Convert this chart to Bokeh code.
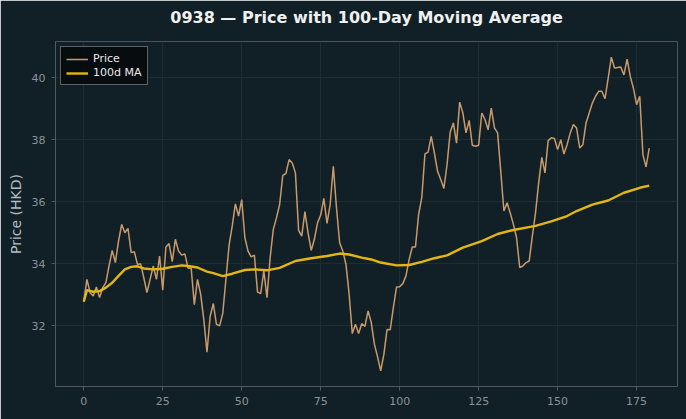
from bokeh.plotting import figure
from bokeh.models import ColumnDataSource, Range1d, FixedTicker, Legend, LegendItem, Title
from bokeh.embed import file_html
from bokeh.resources import INLINE

# ---- data ----
price = [
    32.78, 33.50, 33.07, 32.96, 33.25, 32.91, 33.23, 33.39, 33.93, 34.43,
    34.04, 34.73, 35.27, 35.00, 35.14, 34.36, 34.39, 33.98, 34.00, 33.55,
    33.07, 33.50, 33.93, 33.50, 34.25, 33.15, 34.54, 34.65, 34.07, 34.79,
    34.41, 34.28, 34.32, 33.86, 33.86, 32.68, 33.50, 33.02, 32.20, 31.15,
    32.30, 32.72, 32.05, 32.00, 32.40, 33.50, 34.60, 35.22, 35.93, 35.54,
    36.07, 34.84, 34.41, 34.22, 34.28, 33.09, 33.04, 33.77, 32.91, 34.20,
    35.11, 35.48, 35.91, 36.85, 36.91, 37.36, 37.25, 36.93, 35.08, 34.89,
    35.68, 35.00, 34.43, 34.79, 35.32, 35.57, 36.11, 35.30, 35.91, 37.14,
    35.80, 34.68, 34.41, 33.98, 33.02, 31.75, 32.05, 31.75, 32.07, 31.98,
    32.48, 32.11, 31.41, 31.00, 30.55, 31.08, 31.88, 31.87, 32.59, 33.25,
    33.26, 33.36, 33.61, 34.14, 34.54, 34.54, 35.59, 36.13, 37.54, 37.60,
    38.11, 37.57, 36.98, 36.72, 36.43, 37.20, 38.25, 38.54, 37.89, 39.21,
    38.86, 38.22, 38.62, 37.82, 37.79, 37.82, 38.86, 38.65, 38.32, 39.02,
    38.38, 38.22, 36.98, 35.70, 35.97, 35.64, 35.27, 34.84, 33.88, 33.93,
    34.04, 34.09, 34.89, 35.64, 36.61, 37.43, 36.93, 37.97, 38.06, 38.04,
    37.68, 38.00, 37.54, 37.84, 38.22, 38.49, 38.38, 37.73, 37.84, 38.54,
    38.86, 39.18, 39.40, 39.56, 39.56, 39.32, 39.98, 40.66, 40.31, 40.33,
    40.34, 40.09, 40.60, 40.04, 39.66, 39.13, 39.40, 37.52, 37.12, 37.73,
]
day = list(range(len(price)))

ma_day = [0, 1, 3, 5, 7, 9, 11, 13, 15, 17, 19, 22, 25, 28, 31, 33, 36, 39, 41, 44,
          47, 51, 54, 58, 62, 67, 72, 77, 81, 84, 88, 91, 94, 99, 103, 107, 111, 115,
          120, 126, 131, 136, 143, 148, 153, 156, 161, 166, 171, 176, 179]
ma_val = [32.78, 33.15, 33.10, 33.12, 33.23, 33.39, 33.61, 33.82, 33.90, 33.92,
          33.85, 33.82, 33.84, 33.90, 33.95, 33.93, 33.88, 33.75, 33.70, 33.60,
          33.68, 33.80, 33.82, 33.79, 33.87, 34.09, 34.18, 34.25, 34.33, 34.30,
          34.20, 34.14, 34.04, 33.95, 33.96, 34.06, 34.18, 34.27, 34.52, 34.73,
          34.96, 35.09, 35.22, 35.37, 35.54, 35.70, 35.91, 36.04, 36.29, 36.45,
          36.52]

x_ticks = [0, 25, 50, 75, 100, 125, 150, 175]
y_ticks = [32, 34, 36, 38, 40]

title_text = "0938 — Price with 100-Day Moving Average"
y_label = "Price (HKD)"

BG = "#111f26"
FONT = "DejaVu Sans"

src_p = ColumnDataSource(dict(x=day, y=price))
src_m = ColumnDataSource(dict(x=ma_day, y=ma_val))

x_pad = (max(day) - min(day)) * 0.05
y_pad = (max(price) - min(price)) * 0.05

p = figure(width=686, height=419, output_backend="svg", toolbar_location=None,
           title=None,
           x_range=Range1d(min(day) - x_pad, max(day) + x_pad),
           y_range=Range1d(min(price) - y_pad, max(price) + y_pad),
           min_border_left=55, min_border_right=9, min_border_top=40, min_border_bottom=33)

p.background_fill_color = BG
p.border_fill_color = BG
p.outline_line_color = None

# spacer (nearest the frame) then the real title above it
p.add_layout(Title(text=" ", text_font_size="1px", text_color=BG, standoff=7), "above")
p.add_layout(Title(text=title_text, align="center", text_font=FONT,
                   text_font_size="16px", text_font_style="bold",
                   text_color="#f0f0f0"), "above")

r1 = p.line("x", "y", source=src_p, line_color="#c99a6b", line_width=1.5)
r2 = p.line("x", "y", source=src_m, line_color="#e2b714", line_width=2.4)

p.xaxis.ticker = FixedTicker(ticks=x_ticks)
p.yaxis.ticker = FixedTicker(ticks=y_ticks)
for ax in (p.xaxis[0], p.yaxis[0]):
    ax.axis_line_color = "#4f5a5f"
    ax.major_tick_line_color = "#4f5a5f"
    ax.major_tick_out = 4
    ax.major_tick_in = 0
    ax.minor_tick_line_color = None
    ax.major_label_text_color = "#8a9397"
    ax.major_label_text_font = FONT
    ax.major_label_text_font_size = "11px"
p.yaxis.axis_label = y_label
p.yaxis.axis_label_text_font = FONT
p.yaxis.axis_label_text_font_size = "14px"
p.yaxis.axis_label_text_font_style = "normal"
p.yaxis.axis_label_text_color = "#b4bcc0"
p.xaxis.major_label_standoff = 6
p.yaxis.major_label_standoff = 6

p.xgrid.ticker = FixedTicker(ticks=x_ticks)
p.ygrid.ticker = FixedTicker(ticks=y_ticks)
p.grid.grid_line_color = "#1d2d34"
p.grid.grid_line_width = 1

legend = Legend(items=[LegendItem(label="Price", renderers=[r1]),
                       LegendItem(label="100d MA", renderers=[r2])],
                location="top_left")
legend.background_fill_color = "#070b0d"
legend.background_fill_alpha = 0.9
legend.border_line_color = "#b8b8b8"
legend.border_line_width = 1
legend.label_text_color = "#e8e8e8"
legend.label_text_font = FONT
legend.label_text_font_size = "11px"
legend.glyph_width = 22
legend.glyph_height = 12
legend.label_height = 12
legend.spacing = 1
legend.padding = 5
legend.margin = 5
p.add_layout(legend)

open("out.html", "w").write(file_html(p, INLINE))
